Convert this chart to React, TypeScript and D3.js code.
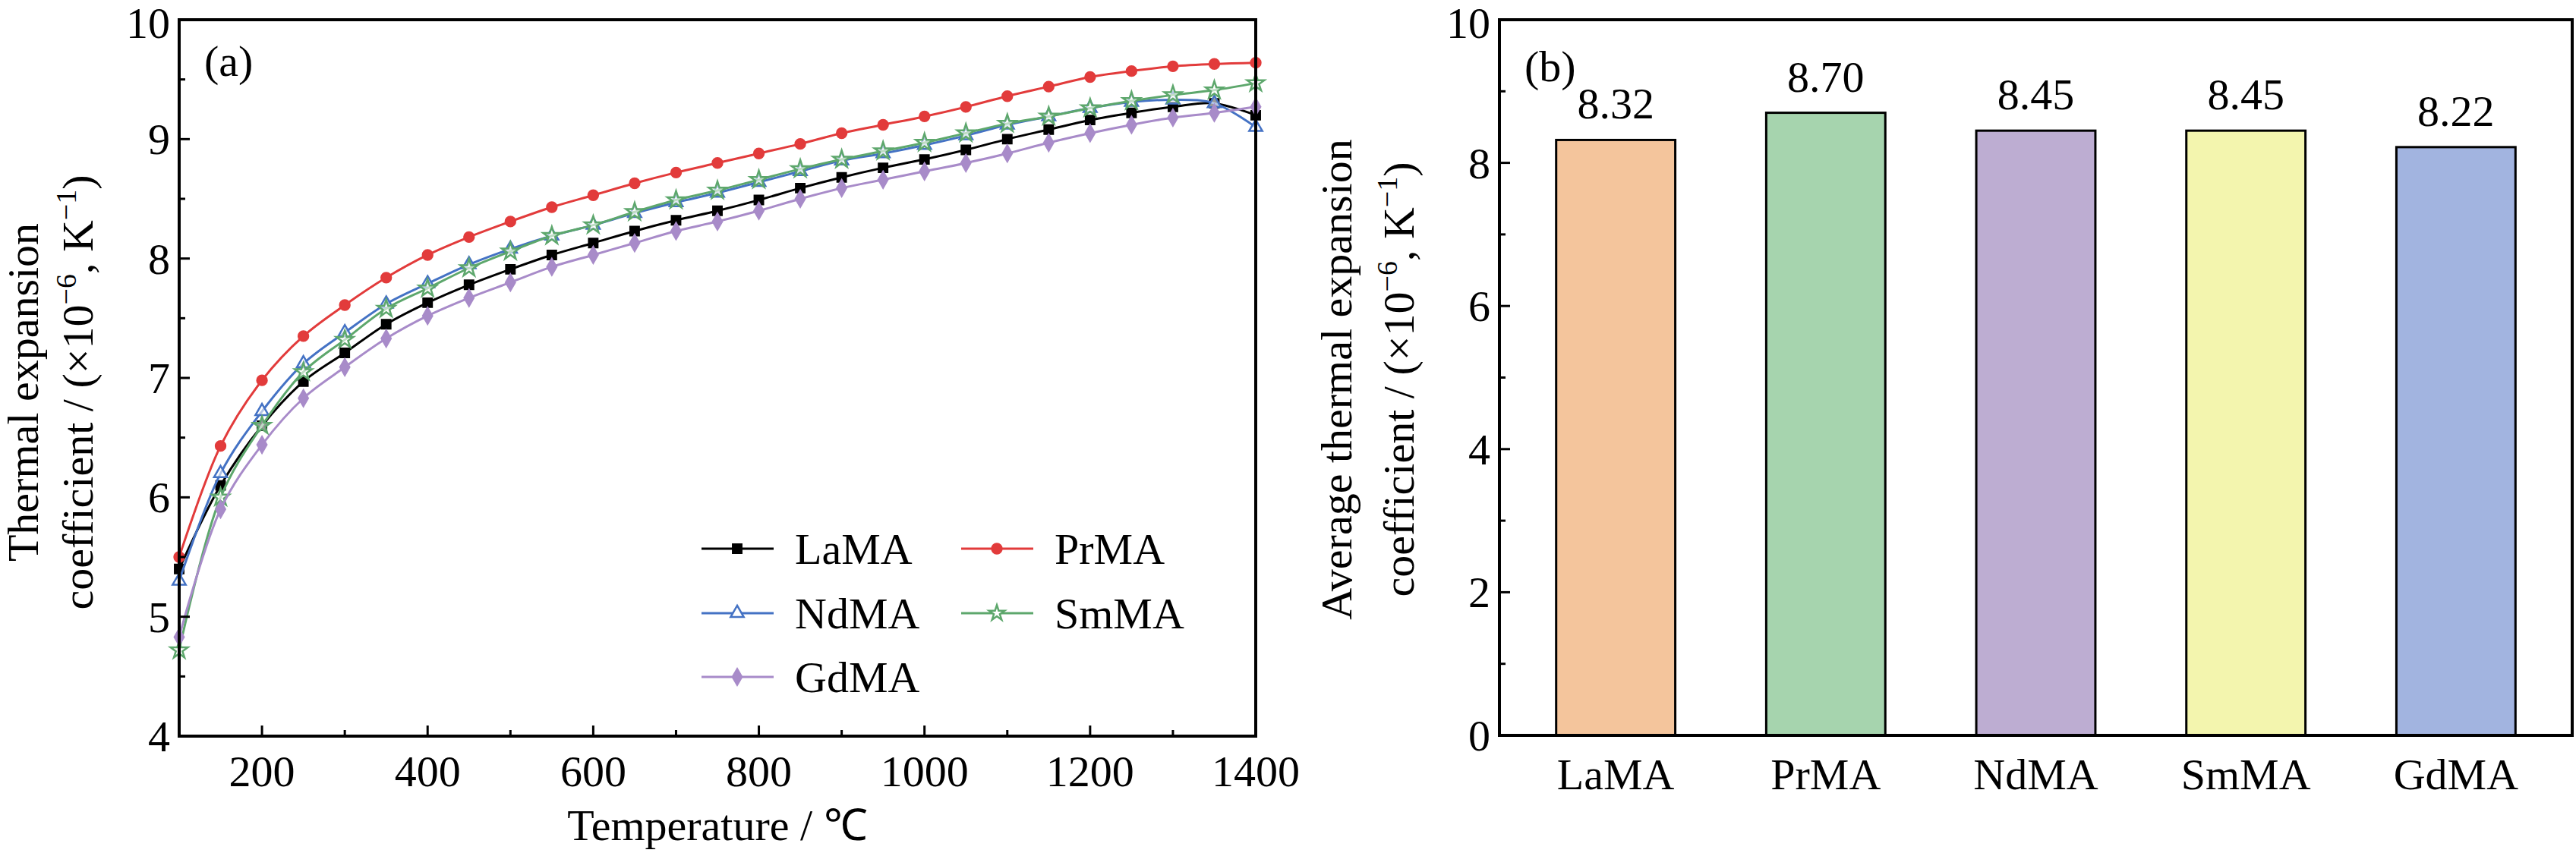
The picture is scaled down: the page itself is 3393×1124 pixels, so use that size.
import React from 'react';
import * as d3 from 'd3';

const temps = [100, 150, 200, 250, 300, 350, 400, 450, 500, 550, 600, 650, 700, 750, 800, 850, 900, 950, 1000, 1050, 1100, 1150, 1200, 1250, 1300, 1350, 1400];
const laMA = [5.4, 6.1, 6.6, 6.97, 7.21, 7.45, 7.63, 7.78, 7.91, 8.03, 8.13, 8.23, 8.32, 8.4, 8.49, 8.59, 8.68, 8.76, 8.83, 8.91, 9.0, 9.08, 9.16, 9.22, 9.27, 9.3, 9.2];
const prMA = [5.5, 6.43, 6.98, 7.35, 7.61, 7.84, 8.03, 8.18, 8.31, 8.43, 8.53, 8.63, 8.72, 8.8, 8.88, 8.96, 9.05, 9.12, 9.19, 9.27, 9.36, 9.44, 9.52, 9.57, 9.61, 9.63, 9.64];
const ndMA = [5.3, 6.2, 6.72, 7.12, 7.38, 7.62, 7.79, 7.95, 8.08, 8.19, 8.28, 8.38, 8.47, 8.55, 8.64, 8.73, 8.82, 8.88, 8.95, 9.03, 9.12, 9.19, 9.26, 9.31, 9.33, 9.3, 9.1];
const smMA = [4.72, 6.0, 6.6, 7.05, 7.32, 7.58, 7.75, 7.92, 8.06, 8.19, 8.28, 8.39, 8.49, 8.57, 8.66, 8.75, 8.83, 8.9, 8.97, 9.05, 9.13, 9.19, 9.26, 9.32, 9.37, 9.41, 9.47];
const gdMA = [4.83, 5.9, 6.44, 6.83, 7.09, 7.33, 7.52, 7.67, 7.8, 7.93, 8.03, 8.13, 8.23, 8.31, 8.4, 8.5, 8.59, 8.66, 8.73, 8.8, 8.88, 8.97, 9.05, 9.12, 9.18, 9.22, 9.27];

const categories = ['LaMA', 'PrMA', 'NdMA', 'SmMA', 'GdMA'];
const averages = [8.32, 8.7, 8.45, 8.45, 8.22];
const barColors = ['#f4c59c', '#a6d4ae', '#bdadd2', '#f3f5ae', '#a2b4e0'];

const series = [
  { name: 'LaMA', values: laMA, color: '#000000', symbol: d3.symbolSquare, fill: true },
  { name: 'PrMA', values: prMA, color: '#e23b3b', symbol: d3.symbolCircle, fill: true },
  { name: 'NdMA', values: ndMA, color: '#4472c4', symbol: d3.symbolTriangle, fill: false },
  { name: 'SmMA', values: smMA, color: '#5da76c', symbol: d3.symbolStar, fill: false },
  { name: 'GdMA', values: gdMA, color: '#a88bc9', symbol: d3.symbolDiamond, fill: true },
];

const font = '"Liberation Serif", "Times New Roman", serif';
const fs = 58;

const App: React.FC = () => {
  // panel (a)
  const ax = { l: 236, r: 1654, t: 26, b: 970 };
  const x = d3.scaleLinear().domain([100, 1400]).range([ax.l, ax.r]);
  const y = d3.scaleLinear().domain([4, 10]).range([ax.b, ax.t]);
  const line = d3.line<number>().x((_, i) => x(temps[i])).y((d) => y(d)).curve(d3.curveCatmullRom);

  // panel (b)
  const bx = { l: 1975, r: 3388, t: 26, b: 969 };
  const xb = d3.scaleBand().domain(categories).range([bx.l, bx.r]).paddingInner(0.433).paddingOuter(0.27);
  const yb = d3.scaleLinear().domain([0, 10]).range([bx.b, bx.t]);

  const legendPos = [
    { lx: 924, ly: 723 }, { lx: 1266, ly: 723 },
    { lx: 924, ly: 808 }, { lx: 1266, ly: 808 },
    { lx: 924, ly: 892 },
  ];

  return (
    <svg width={3393} height={1124} style={{ position: 'absolute', left: 0, top: 0, background: '#fff' }} fontFamily={font}>
      {/* panel a */}
      {series.map((s) => (
        <g key={s.name}>
          <path d={line(s.values) || ''} fill="none" stroke={s.color} strokeWidth={3} />
          {s.values.map((v, i) => (
            <path key={i} transform={`translate(${x(temps[i])},${y(v)})`}
              d={d3.symbol(s.symbol, s.symbol === d3.symbolStar ? 160 : 130)() || ''}
              fill={s.fill ? s.color : '#ffffff'} fillOpacity={s.fill ? 1 : 0.6} stroke={s.color} strokeWidth={2.5} />
          ))}
        </g>
      ))}
      <rect x={ax.l} y={ax.t} width={ax.r - ax.l} height={ax.b - ax.t} fill="none" stroke="#000" strokeWidth={4} />
      {d3.range(4, 10.01, 0.5).map((v) => (
        <line key={v} x1={ax.l} x2={ax.l + (v % 1 === 0 ? 14 : 8)} y1={y(v)} y2={y(v)} stroke="#000" strokeWidth={3} />
      ))}
      {d3.range(4, 11).map((v) => (
        <text key={v} x={ax.l - 12} y={y(v) + (v === 10 ? 24 : 20)} textAnchor="end" fontSize={fs}>{v}</text>
      ))}
      {d3.range(200, 1401, 100).map((v) => (
        <line key={v} x1={x(v)} x2={x(v)} y1={ax.b} y2={ax.b - (v % 200 === 0 ? 14 : 8)} stroke="#000" strokeWidth={3} />
      ))}
      {d3.range(200, 1401, 200).map((v) => (
        <text key={v} x={x(v)} y={1036} textAnchor="middle" fontSize={fs}>{v}</text>
      ))}
      <text x={(ax.l + ax.r) / 2} y={1107} textAnchor="middle" fontSize={fs}>Temperature / ℃</text>
      <text x={269} y={100} fontSize={fs}>(a)</text>
      <text transform="translate(50,517) rotate(-90)" textAnchor="middle" fontSize={fs}>Thermal expansion</text>
      <text transform="translate(122,517) rotate(-90)" textAnchor="middle" fontSize={fs}>coefficient  / (×10<tspan dy={-22} fontSize={38}>−6</tspan><tspan dy={22}>, K</tspan><tspan dy={-22} fontSize={38}>−1</tspan><tspan dy={22}>)</tspan></text>
      {series.map((s, i) => {
        const p = legendPos[i];
        return (
          <g key={s.name}>
            <line x1={p.lx} x2={p.lx + 95} y1={p.ly} y2={p.ly} stroke={s.color} strokeWidth={3} />
            <path transform={`translate(${p.lx + 47},${p.ly})`} d={d3.symbol(s.symbol, 130)() || ''}
              fill={s.fill ? s.color : '#fff'} stroke={s.color} strokeWidth={2.5} />
            <text x={p.lx + 123} y={p.ly + 20} fontSize={fs}>{s.name}</text>
          </g>
        );
      })}

      {/* panel b */}
      {categories.map((c, i) => (
        <g key={c}>
          <rect x={xb(c)} y={yb(averages[i])} width={xb.bandwidth()} height={yb(0) - yb(averages[i])}
            fill={barColors[i]} stroke="#000" strokeWidth={3} />
          <text x={(xb(c) || 0) + xb.bandwidth() / 2} y={yb(averages[i]) - 28} textAnchor="middle" fontSize={fs}>{averages[i].toFixed(2)}</text>
          <text x={(xb(c) || 0) + xb.bandwidth() / 2} y={1040} textAnchor="middle" fontSize={fs}>{c}</text>
        </g>
      ))}
      <rect x={bx.l} y={bx.t} width={bx.r - bx.l} height={bx.b - bx.t} fill="none" stroke="#000" strokeWidth={4} />
      {d3.range(0, 10.01, 1).map((v) => (
        <line key={v} x1={bx.l} x2={bx.l + (v % 2 === 0 ? 14 : 8)} y1={yb(v)} y2={yb(v)} stroke="#000" strokeWidth={3} />
      ))}
      {d3.range(0, 11, 2).map((v) => (
        <text key={v} x={bx.l - 12} y={yb(v) + (v === 10 ? 24 : 20)} textAnchor="end" fontSize={fs}>{v}</text>
      ))}
      <text x={2008} y={107} fontSize={fs}>(b)</text>
      <text transform="translate(1780,500) rotate(-90)" textAnchor="middle" fontSize={fs}>Average thermal expansion</text>
      <text transform="translate(1862,500) rotate(-90)" textAnchor="middle" fontSize={fs}>coefficient / (×10<tspan dy={-22} fontSize={38}>−6</tspan><tspan dy={22}>, K</tspan><tspan dy={-22} fontSize={38}>−1</tspan><tspan dy={22}>)</tspan></text>
    </svg>
  );
};

export default App;
